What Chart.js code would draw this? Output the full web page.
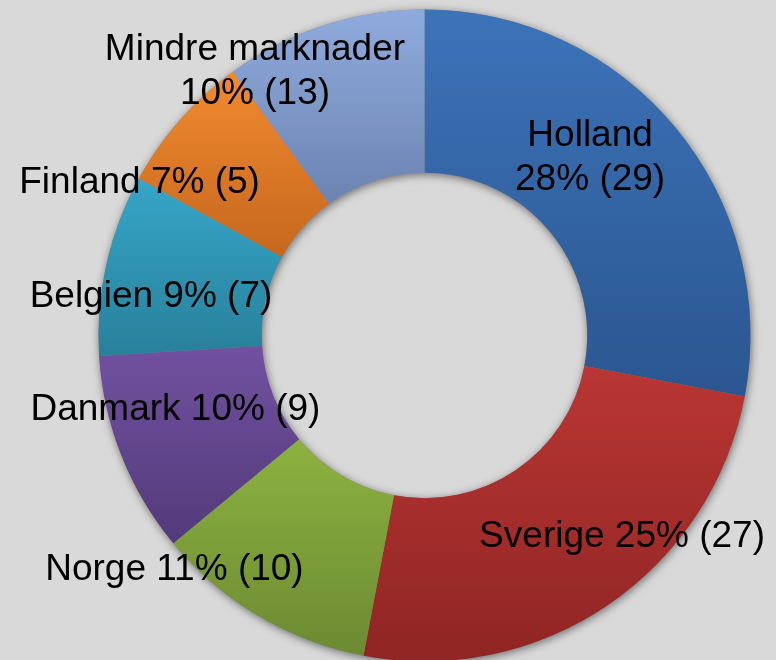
<!DOCTYPE html>
<html>
<head>
<meta charset="utf-8">
<script src="https://cdn.jsdelivr.net/npm/chart.js@4.4.0/dist/chart.umd.min.js"></script>
<style>
  html, body { margin: 0; padding: 0; background: #d9d9d9; overflow: hidden; }
  #wrap { width: 776px; height: 660px; }
</style>
</head>
<body>
<div id="wrap"><canvas id="c" width="776" height="660"></canvas></div>
<script>
// ---- data ----
const categories = ["Holland", "Sverige", "Norge", "Danmark", "Belgien", "Finland", "Mindre marknader"];
const percentages = [28, 25, 11, 10, 9, 7, 10];
const counts = [29, 27, 10, 9, 7, 5, 13];

// ---- styles ----
const topColors    = ["#3c73b9", "#b93633", "#8db240", "#7151a0", "#36a6c9", "#f18b2f", "#8fabdd"];
const bottomColors = ["#2b5690", "#8f2524", "#6c8a32", "#533a7a", "#28809a", "#c6671e", "#6c83b1"];
// label placement relative to chart center, in units of the outer radius (label visual centre)
const labelPlacement = [
  { dx: 0.508, dy: -0.555, lines: 2 },
  { dx: 0.606, dy: 0.609, lines: 1 },
  { dx: -0.767, dy: 0.710, lines: 1 },
  { dx: -0.764, dy: 0.219, lines: 1 },
  { dx: -0.839, dy: -0.127, lines: 1 },
  { dx: -0.874, dy: -0.477, lines: 1 },
  { dx: -0.520, dy: -0.819, lines: 2 }
];
const FONT_SIZE = 37;
const FONT = FONT_SIZE + 'px "Liberation Sans", Arial, sans-serif';

function sliceYExtent(el) {
  const { x, y, startAngle, endAngle, innerRadius, outerRadius } = el.getProps(['x','y','startAngle','endAngle','innerRadius','outerRadius'], true);
  const ys = [];
  [startAngle, endAngle].forEach(a => {
    ys.push(y + Math.sin(a) * outerRadius, y + Math.sin(a) * innerRadius);
  });
  [-Math.PI/2, Math.PI/2, 3*Math.PI/2, -3*Math.PI/2, 5*Math.PI/2].forEach(a => {
    if (a >= startAngle && a <= endAngle) ys.push(y + Math.sin(a) * outerRadius);
  });
  return [Math.min(...ys), Math.max(...ys)];
}

const gradientPlugin = {
  id: 'sliceGradients',
  beforeDatasetsDraw(chart) {
    const ctx = chart.ctx;
    const meta = chart.getDatasetMeta(0);
    if (!meta.data.length) return;
    const el0 = meta.data[0];
    const cx = el0.x, cy = el0.y, R = el0.outerRadius, r = el0.innerRadius;
    // ring shadow
    ctx.save();
    ctx.beginPath();
    ctx.arc(cx, cy, R, 0, Math.PI * 2);
    ctx.moveTo(cx + r, cy);
    ctx.arc(cx, cy, r, 0, Math.PI * 2, true);
    ctx.shadowColor = 'rgba(0,0,0,0.5)';
    ctx.shadowBlur = 8;
    ctx.shadowOffsetX = 1;
    ctx.shadowOffsetY = 2;
    ctx.fillStyle = '#888888';
    ctx.fill('evenodd');
    ctx.restore();
    meta.data.forEach((el, i) => {
      const [y0, y1] = sliceYExtent(el);
      const g = ctx.createLinearGradient(0, y0, 0, y1);
      g.addColorStop(0, topColors[i]);
      g.addColorStop(1, bottomColors[i]);
      el.options.backgroundColor = g;
      el.options.borderColor = g;
    });
  }
};

const labelPlugin = {
  id: 'sliceLabels',
  afterDatasetsDraw(chart) {
    const ctx = chart.ctx;
    const meta = chart.getDatasetMeta(0);
    const el0 = meta.data[0];
    const cx = el0.x, cy = el0.y, R = el0.outerRadius;
    ctx.save();
    ctx.font = FONT;
    ctx.fillStyle = '#000000';
    ctx.textAlign = 'center';
    ctx.textBaseline = 'alphabetic';
    const capHalf = FONT_SIZE * 0.358;
    const lineH = 44;
    categories.forEach((name, i) => {
      const p = labelPlacement[i];
      const x = cx + p.dx * R;
      const ym = cy + p.dy * R;
      const valueText = percentages[i] + '% (' + counts[i] + ')';
      if (p.lines === 2) {
        ctx.fillText(name, x, ym - lineH / 2 + capHalf);
        ctx.fillText(valueText, x, ym + lineH / 2 + capHalf);
      } else {
        ctx.fillText(name + ' ' + valueText, x, ym + capHalf);
      }
    });
    ctx.restore();
  }
};

new Chart(document.getElementById('c'), {
  type: 'doughnut',
  data: {
    labels: categories,
    datasets: [{
      data: percentages,
      backgroundColor: topColors,
      borderWidth: 0,
      radius: 326,
      cutout: 162,
      clip: false
    }]
  },
  options: {
    responsive: false,
    animation: false,
    layout: { padding: { left: 98.5, right: 25.5, top: 11, bottom: 0 } },
    plugins: {
      legend: { display: false },
      tooltip: { enabled: false },
      title: { display: false }
    },
    events: []
  },
  plugins: [gradientPlugin, labelPlugin]
});
</script>
</body>
</html>
